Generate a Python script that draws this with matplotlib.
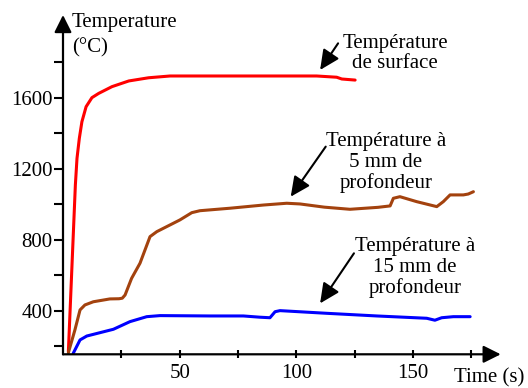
import matplotlib
matplotlib.use("Agg")
import matplotlib.pyplot as plt

plt.rcParams['font.family'] = ['Liberation Serif', 'DejaVu Serif']

# Surface temperature
t_surface = [2.3, 5.3, 6.0, 7.0, 8.1, 9.9, 12.4, 15.3, 21.0, 28.2, 36.7, 45.9, 70, 95, 108.7, 117.3, 119.5, 125.2]
T_surface = [171, 1110, 1260, 1373, 1466, 1551, 1602, 1626, 1664, 1696, 1714, 1724, 1724, 1724, 1724, 1717, 1707, 1701]

# 5 mm depth
t_5mm = [2.3, 5.1, 7.3, 9.4, 13.0, 20.1, 24.0, 25.4, 26.6, 29.4, 33.0, 37.3, 40.2, 45.9, 50.1, 55.2, 58.7,
         71.6, 85.9, 95.9, 101.6, 112, 123.0, 135, 140.2, 141.6, 144.4, 151.6, 160.2, 163.0, 165.9,
         171.6, 173.7, 175.9]
T_5mm = [165, 293, 406, 434, 452, 468, 469, 472, 490, 584, 669, 819, 847, 885, 913, 954, 965,
         979, 997, 1007, 1003, 985, 973, 984, 992, 1035, 1044, 1016, 988, 1016, 1054,
         1054, 1059, 1072]

# 15 mm depth
t_15mm = [4.4, 7.3, 10.2, 15.9, 21.6, 28.7, 35.9, 41.6, 63.0, 77.3, 84.4, 88.7, 90.9, 93.0, 113.0,
          134.5, 155.9, 159.4, 162.3, 167.3, 174.5]
T_15mm = [162, 237, 259, 278, 297, 340, 368, 374, 372, 372, 365, 362, 396, 402, 387,
          372, 359, 348, 362, 368, 368]

x_ticks = [25, 50, 75, 100, 125, 150, 175]
x_labels = ['', '50', '', '100', '', '150', '']
y_ticks = [200, 400, 600, 800, 1000, 1200, 1400, 1600, 1800]
y_labels = ['', '400', '', '800', '', '1200', '', '1600', '']

labels = ["Température\nde surface", "Température à\n5 mm de\nprofondeur",
          "Température à\n15 mm de\nprofondeur"]

W, H = 528, 388
fig = plt.figure(figsize=(W / 100, H / 100), dpi=100)
ax = fig.add_axes([63 / W, 1 - 354.3 / H, (500.7 - 63) / W, (354.3 - 15) / H])
ax.set_xlim(0, 187.6)
ax.set_ylim(156, 2067.6)
for s in ax.spines.values():
    s.set_visible(False)

lw = 2.2
ax.plot(t_surface, T_surface, color='#ff0000', lw=lw, solid_capstyle='round', solid_joinstyle='round')
ax.plot(t_5mm, T_5mm, color='#a3420e', lw=lw, solid_capstyle='round', solid_joinstyle='round')
ax.plot(t_15mm, T_15mm, color='#0000ff', lw=lw, solid_capstyle='round', solid_joinstyle='round')

fs = 15
ax.set_xticks(x_ticks)
ax.set_xticklabels(x_labels)
ax.set_yticks(y_ticks)
ax.set_yticklabels(y_labels)
ax.tick_params(axis='y', direction='out', length=6.5, width=1.5, pad=1, labelsize=fs)
ax.tick_params(axis='x', direction='inout', length=6, width=1.5, pad=4, labelsize=fs)

arrow_axis = dict(arrowstyle='-|>,head_length=0.7,head_width=0.35', lw=1.6, color='k',
                  mutation_scale=15, shrinkA=0, shrinkB=0)
ax.annotate('', xy=(0, 1), xytext=(0, 0), xycoords='axes fraction', arrowprops=arrow_axis,
            annotation_clip=False)
ax.annotate('', xy=(1, 0), xytext=(0, 0), xycoords='axes fraction', arrowprops=arrow_axis,
            annotation_clip=False)

fig.text(71.7 / W, 1 - 26.7 / H, "Temperature", fontsize=fs, ha='left', va='baseline')
fig.text(71.7 / W, 1 - 52.3 / H, "(°C)", fontsize=fs, ha='left', va='baseline')
fig.text(454 / W, 1 - 382.5 / H, "Time (s)", fontsize=fs, ha='left', va='baseline')

arr = dict(arrowstyle='-|>,head_length=0.8,head_width=0.38', lw=1.5, color='k',
           mutation_scale=15, shrinkA=0, shrinkB=0)
ax.text(142.3, 1767, labels[0], fontsize=fs, ha='center', va='baseline', linespacing=1.12)
ax.annotate('', xy=(110.2, 1758), xytext=(117.9, 1908), arrowprops=arr)
ax.text(138.4, 1091, labels[1], fontsize=fs, ha='center', va='baseline', linespacing=1.12)
ax.annotate('', xy=(97.6, 1044), xytext=(112.6, 1326), arrowprops=arr)
ax.text(150.9, 500, labels[2], fontsize=fs, ha='center', va='baseline', linespacing=1.12)
ax.annotate('', xy=(110.2, 443), xytext=(124.7, 725), arrowprops=arr)

fig.savefig('out.png', dpi=100)
